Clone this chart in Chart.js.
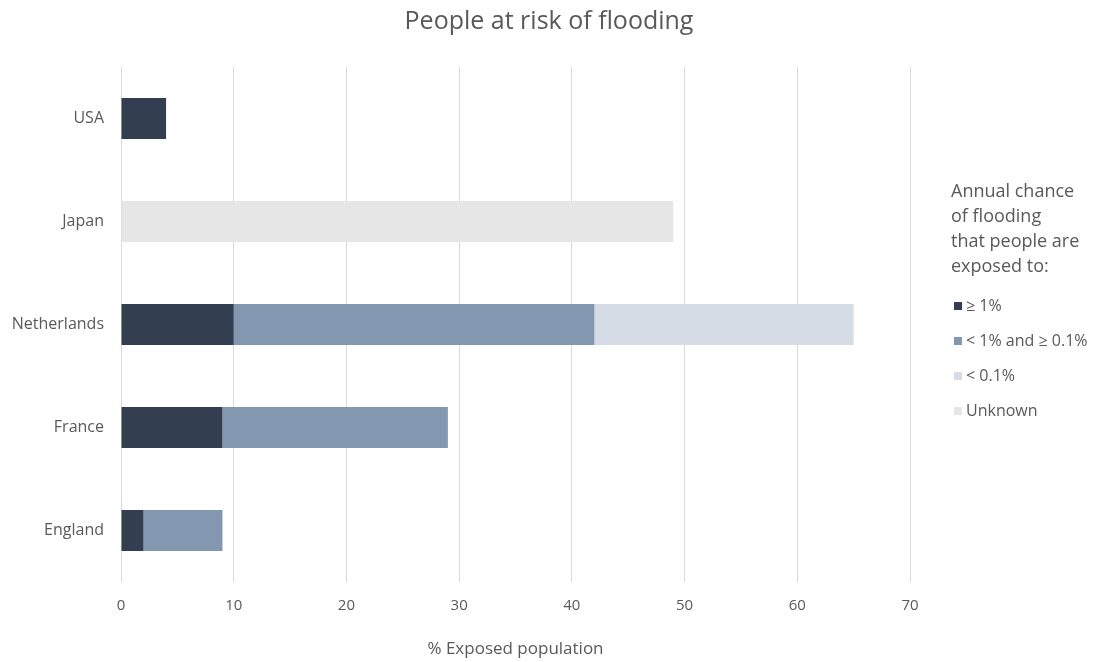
<!DOCTYPE html>
<html>
<head>
<meta charset="utf-8">
<script src="https://cdn.jsdelivr.net/npm/chart.js@4/dist/chart.umd.min.js"></script>
<style>
  html, body { margin: 0; padding: 0; background: #ffffff; }
  #wrap { width: 1098px; height: 662px; position: relative; }
</style>
</head>
<body>
<div id="wrap"><canvas id="c"></canvas></div>
<script>
// Countries, top to bottom
const countries = ['USA', 'Japan', 'Netherlands', 'France', 'England'];

// % of population exposed, by annual chance of flooding
const atLeast1pct      = [4, null, 10, 9, 2];
const between01and1pct = [null, null, 32, 20, 7];
const below01pct       = [null, null, 23, null, null];
const unknownChance    = [null, 49, null, null, null];

const seriesLabels = ['\u2265 1%', '< 1% and \u2265 0.1%', '< 0.1%', 'Unknown'];
const seriesColors = ['#333F50', '#8497B0', '#D6DCE5', '#E7E6E6'];

const xTicks = [0, 10, 20, 30, 40, 50, 60, 70];

const legendTitle = ['Annual chance', 'of flooding', 'that people are', 'exposed to:'];

const FONT = "'Open Sans', 'Noto Sans', sans-serif";
const TEXT = '#595959';

// Legend panel drawn in the space reserved by the right-hand spacer axis
const legendPanel = {
  id: 'legendPanel',
  afterDraw(chart) {
    const ctx = chart.ctx;
    const x0 = 951;
    ctx.save();
    ctx.fillStyle = TEXT;
    ctx.textBaseline = 'middle';
    ctx.textAlign = 'left';
    ctx.font = '18px ' + FONT;
    legendTitle.forEach((line, i) => ctx.fillText(line, x0, 192 + i * 25));
    ctx.font = '16px ' + FONT;
    chart.data.datasets.forEach((ds, i) => {
      const y = 306 + i * 35;
      ctx.fillStyle = ds.backgroundColor;
      ctx.fillRect(x0 + 3, y - 4, 8, 8);
      ctx.fillStyle = TEXT;
      ctx.fillText(ds.label, x0 + 15, y);
    });
    ctx.restore();
  }
};

const seriesData = [atLeast1pct, between01and1pct, below01pct, unknownChance];

new Chart(document.getElementById('c'), {
  type: 'bar',
  data: {
    labels: countries,
    datasets: seriesData.map((d, i) => ({
      label: seriesLabels[i],
      data: d,
      backgroundColor: seriesColors[i],
      borderWidth: 0,
      categoryPercentage: 1,
      barPercentage: 0.4
    }))
  },
  options: {
    indexAxis: 'y',
    responsive: true,
    maintainAspectRatio: false,
    animation: false,
    layout: { padding: 0 },
    plugins: {
      legend: { display: false },
      tooltip: { enabled: false },
      title: {
        display: true,
        text: 'People at risk of flooding',
        color: TEXT,
        font: { family: FONT, size: 25, weight: 'normal' },
        padding: { top: 7, bottom: 30 }
      }
    },
    scales: {
      x: {
        stacked: true,
        min: 0,
        max: 70,
        afterBuildTicks(scale) { scale.ticks = xTicks.map(v => ({ value: v })); },
        afterFit(scale) { scale.height = 80; },
        grid: { color: '#D9D9D9', lineWidth: 1, drawTicks: false },
        border: { display: false },
        ticks: {
          color: TEXT,
          font: { family: FONT, size: 15 },
          padding: 15
        },
        title: {
          display: true,
          text: '% Exposed population',
          color: TEXT,
          font: { family: FONT, size: 17 },
          padding: { top: 0, bottom: 3 }
        }
      },
      y: {
        stacked: true,
        afterFit(scale) { scale.width = 121; },
        grid: { display: false, drawTicks: false },
        border: { display: false },
        ticks: {
          color: TEXT,
          font: { family: FONT, size: 16 },
          padding: 17
        }
      },
      legendSpace: {
        type: 'category',
        labels: countries,
        position: 'right',
        afterFit(scale) { scale.width = 188; },
        grid: { display: false, drawTicks: false },
        border: { display: false },
        ticks: { display: false }
      }
    }
  },
  plugins: [legendPanel]
});
</script>
</body>
</html>
